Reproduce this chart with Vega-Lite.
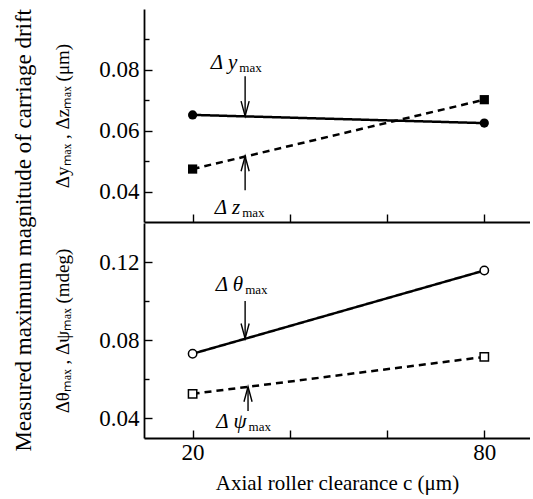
{
  "$schema": "https://vega.github.io/schema/vega-lite/v6.json",
  "padding": {"left": 12, "right": 0, "top": 9, "bottom": 5},
  "background": "white",
  "config": {
    "font": "Liberation Serif",
    "view": {"stroke": null},
    "axis": {
      "grid": false,
      "domainColor": "black",
      "domainWidth": 1.8,
      "tickColor": "black",
      "tickWidth": 1.4,
      "labelColor": "black",
      "labelFont": "Liberation Serif",
      "labelFontSize": 23,
      "titleFont": "Liberation Serif",
      "titleFontWeight": "normal",
      "titleFontSize": 19,
      "titleColor": "black"
    }
  },
  "datasets": {
    "top": [
      {"s": "y", "x": 20, "v": 0.0652},
      {"s": "y", "x": 80, "v": 0.0625},
      {"s": "z", "x": 20, "v": 0.0474},
      {"s": "z", "x": 80, "v": 0.0702}
    ],
    "bottom": [
      {"s": "theta", "x": 20, "v": 0.0731},
      {"s": "theta", "x": 80, "v": 0.1157},
      {"s": "psi", "x": 20, "v": 0.0526},
      {"s": "psi", "x": 80, "v": 0.0715}
    ],
    "arrowsTop": [
      {"x": 30.8, "y1": 0.0779, "y2": 0.0648, "dir": "down"},
      {"x": 30.8, "y1": 0.0404, "y2": 0.0516, "dir": "up"}
    ],
    "arrowsBottom": [
      {"x": 30.8, "y1": 0.1001, "y2": 0.0809, "dir": "down"},
      {"x": 31.4, "y1": 0.0438, "y2": 0.0562, "dir": "up"}
    ],
    "labelsTop": [
      {"x": 29.4, "y": 0.0802, "m": "Δ y", "sub": "max"},
      {"x": 30.0, "y": 0.0326, "m": "Δ z", "sub": "max"}
    ],
    "labelsBottom": [
      {"x": 30.6, "y": 0.1052, "m": "Δ θ", "sub": "max"},
      {"x": 31.3, "y": 0.0351, "m": "Δ ψ", "sub": "max"}
    ]
  },
  "title": {
    "text": "Measured maximum magnitude of carriage drift",
    "orient": "left",
    "anchor": "end",
    "font": "Liberation Serif",
    "fontSize": 23,
    "fontWeight": "normal",
    "color": "black",
    "offset": 18
  },
  "spacing": 0,
  "vconcat": [
    {
      "width": 386,
      "height": 213,
      "resolve": {"scale": {"shape": "independent"}},
      "layer": [
        {
          "data": {"name": "top"},
          "mark": {"type": "line", "color": "black", "strokeWidth": 2.5},
          "encoding": {
            "x": {
              "field": "x", "type": "quantitative",
              "scale": {"domain": [10, 89.4], "nice": false, "zero": false},
              "axis": {"orient": "bottom", "values": [20, 40, 60, 80], "labels": false, "tickSize": -8, "title": null}
            },
            "y": {
              "field": "v", "type": "quantitative",
              "scale": {"domain": [0.03, 0.10], "nice": false, "zero": false},
              "axis": {
                "values": [0.04, 0.05, 0.06, 0.07, 0.08, 0.09],
                "labelExpr": "round(datum.value*100) % 2 == 0 ? format(datum.value, '.2f') : ''",
                "tickSize": {"condition": {"test": "round(datum.value*100) % 2 == 0", "value": -8}, "value": -5},
                "labelPadding": 13,
                "title": "Δyₘₐₓ , Δzₘₐₓ (μm)",
                "titlePadding": 26
              }
            },
            "strokeDash": {
              "field": "s", "type": "nominal",
              "scale": {"domain": ["y", "z"], "range": [[1, 0], [7, 5]]},
              "legend": null
            }
          }
        },
        {
          "data": {"name": "top"},
          "mark": {"type": "point", "filled": true, "color": "black", "opacity": 1, "size": 85},
          "encoding": {
            "x": {"field": "x", "type": "quantitative"},
            "y": {"field": "v", "type": "quantitative"},
            "shape": {
              "field": "s", "type": "nominal",
              "scale": {"domain": ["y", "z"], "range": ["circle", "square"]},
              "legend": null
            }
          }
        },
        {
          "data": {"name": "arrowsTop"},
          "mark": {"type": "rule", "color": "black", "strokeWidth": 1.4},
          "encoding": {
            "x": {"field": "x", "type": "quantitative"},
            "y": {"field": "y1", "type": "quantitative"},
            "y2": {"field": "y2"}
          }
        },
        {
          "data": {"name": "arrowsTop"},
          "mark": {"type": "point", "filled": false, "stroke": "black", "strokeWidth": 1.4, "opacity": 1, "size": 900},
          "encoding": {
            "x": {"field": "x", "type": "quantitative"},
            "y": {"field": "y2", "type": "quantitative"},
            "shape": {
              "field": "dir", "type": "nominal",
              "scale": {"domain": ["down", "up"], "range": ["M-0.27,-1L0,0L0.27,-1", "M-0.27,1L0,0L0.27,1"]},
              "legend": null
            }
          }
        },
        {
          "data": {"name": "labelsTop"},
          "mark": {"type": "text", "align": "right", "baseline": "alphabetic", "fontSize": 21, "fontStyle": "italic", "color": "black", "dx": -1},
          "encoding": {
            "x": {"field": "x", "type": "quantitative"},
            "y": {"field": "y", "type": "quantitative"},
            "text": {"field": "m"}
          }
        },
        {
          "data": {"name": "labelsTop"},
          "mark": {"type": "text", "align": "left", "baseline": "alphabetic", "fontSize": 13, "color": "black", "dx": 1, "dy": 3},
          "encoding": {
            "x": {"field": "x", "type": "quantitative"},
            "y": {"field": "y", "type": "quantitative"},
            "text": {"field": "sub"}
          }
        },
        {
          "mark": {"type": "rule", "color": "black", "strokeWidth": 1.8},
          "encoding": {"y": {"datum": 0.10, "type": "quantitative"}}
        }
      ]
    },
    {
      "width": 386,
      "height": 215,
      "resolve": {"scale": {"shape": "independent"}},
      "layer": [
        {
          "data": {"name": "bottom"},
          "mark": {"type": "line", "color": "black", "strokeWidth": 2.5},
          "encoding": {
            "x": {
              "field": "x", "type": "quantitative",
              "scale": {"domain": [10, 89.4], "nice": false, "zero": false},
              "axis": {
                "orient": "bottom", "values": [20, 40, 60, 80],
                "labelExpr": "datum.value == 20 || datum.value == 80 ? datum.label : ''",
                "tickSize": -8, "labelPadding": 11,
                "title": "Axial roller clearance c (μm)", "titlePadding": 8,
                "titleFontSize": 21
              }
            },
            "y": {
              "field": "v", "type": "quantitative",
              "scale": {"domain": [0.03, 0.14], "nice": false, "zero": false},
              "axis": {
                "values": [0.04, 0.06, 0.08, 0.10, 0.12],
                "labelExpr": "round(datum.value*100) % 4 == 0 ? format(datum.value, '.2f') : ''",
                "tickSize": {"condition": {"test": "round(datum.value*100) % 4 == 0", "value": -8}, "value": -5},
                "labelPadding": 13,
                "title": "Δθₘₐₓ , Δψₘₐₓ (mdeg)",
                "titlePadding": 26
              }
            },
            "strokeDash": {
              "field": "s", "type": "nominal",
              "scale": {"domain": ["theta", "psi"], "range": [[1, 0], [7, 5]]},
              "legend": null
            }
          }
        },
        {
          "data": {"name": "bottom"},
          "mark": {"type": "point", "fill": "white", "stroke": "black", "strokeWidth": 1.5, "opacity": 1, "size": 70},
          "encoding": {
            "x": {"field": "x", "type": "quantitative"},
            "y": {"field": "v", "type": "quantitative"},
            "shape": {
              "field": "s", "type": "nominal",
              "scale": {"domain": ["theta", "psi"], "range": ["circle", "square"]},
              "legend": null
            }
          }
        },
        {
          "data": {"name": "arrowsBottom"},
          "mark": {"type": "rule", "color": "black", "strokeWidth": 1.4},
          "encoding": {
            "x": {"field": "x", "type": "quantitative"},
            "y": {"field": "y1", "type": "quantitative"},
            "y2": {"field": "y2"}
          }
        },
        {
          "data": {"name": "arrowsBottom"},
          "mark": {"type": "point", "filled": false, "stroke": "black", "strokeWidth": 1.4, "opacity": 1, "size": 900},
          "encoding": {
            "x": {"field": "x", "type": "quantitative"},
            "y": {"field": "y2", "type": "quantitative"},
            "shape": {
              "field": "dir", "type": "nominal",
              "scale": {"domain": ["down", "up"], "range": ["M-0.27,-1L0,0L0.27,-1", "M-0.27,1L0,0L0.27,1"]},
              "legend": null
            }
          }
        },
        {
          "data": {"name": "labelsBottom"},
          "mark": {"type": "text", "align": "right", "baseline": "alphabetic", "fontSize": 21, "fontStyle": "italic", "color": "black", "dx": -1},
          "encoding": {
            "x": {"field": "x", "type": "quantitative"},
            "y": {"field": "y", "type": "quantitative"},
            "text": {"field": "m"}
          }
        },
        {
          "data": {"name": "labelsBottom"},
          "mark": {"type": "text", "align": "left", "baseline": "alphabetic", "fontSize": 13, "color": "black", "dx": 1, "dy": 3},
          "encoding": {
            "x": {"field": "x", "type": "quantitative"},
            "y": {"field": "y", "type": "quantitative"},
            "text": {"field": "sub"}
          }
        }
      ]
    }
  ]
}
